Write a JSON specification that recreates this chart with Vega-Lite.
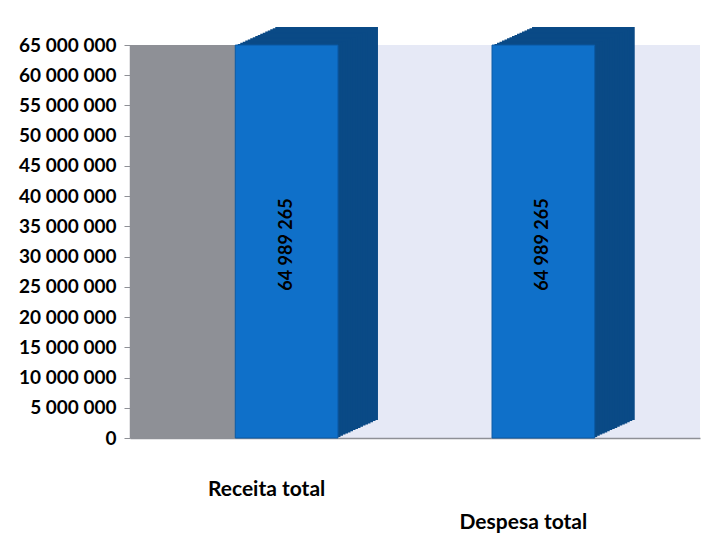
{
  "$schema": "https://vega.github.io/schema/vega-lite/v6.json",
  "width": 570,
  "height": 393,
  "autosize": {"type": "none"},
  "padding": {"left": 130, "top": 45, "right": 24, "bottom": 103},
  "background": "white",
  "config": {
    "locale": {"number": {"decimal": ",", "thousands": " ", "grouping": [3], "currency": ["", ""]}},
    "view": {
      "fill": {
        "gradient": "linear", "x1": 0, "y1": 0, "x2": 1, "y2": 0,
        "stops": [
          {"offset": 0, "color": "#8E9096"},
          {"offset": 0.2, "color": "#8E9096"},
          {"offset": 0.201, "color": "#E6E9F6"},
          {"offset": 1, "color": "#E6E9F6"}
        ]
      },
      "stroke": null
    },
    "font": "Lato"
  },
  "data": {
    "values": [
      {"categoria": "Receita total", "valor": 64989265},
      {"categoria": "Despesa total", "valor": 64989265}
    ]
  },
  "encoding": {
    "x": {
      "field": "categoria",
      "type": "nominal",
      "sort": null,
      "scale": {"paddingInner": 0.6, "paddingOuter": 0.41},
      "axis": {
        "title": null,
        "labelAngle": 0,
        "labelFontSize": 21,
        "labelFontWeight": "bold",
        "labelColor": "#000000",
        "labelPadding": 40,
        "labelOffset": -20,
        "labelLineHeight": 33,
        "labelExpr": "datum.value == 'Despesa total' ? ['', datum.value] : datum.value",
        "ticks": false,
        "domainColor": "#8E9096",
        "domainWidth": 1.5
      }
    },
    "y": {
      "field": "valor",
      "type": "quantitative",
      "scale": {"domain": [0, 65000000]},
      "axis": {
        "title": null,
        "values": [0, 5000000, 10000000, 15000000, 20000000, 25000000, 30000000, 35000000, 40000000, 45000000, 50000000, 55000000, 60000000, 65000000],
        "format": ",d",
        "grid": false,
        "labelFontSize": 19,
        "labelFontWeight": "bold",
        "labelColor": "#000000",
        "labelPadding": 8,
        "tickColor": "#8E9096",
        "tickSize": 6,
        "domainColor": "#8E9096",
        "domainWidth": 1.5
      }
    }
  },
  "layer": [
    {"mark": {"type": "bar", "color": "#0A4A86", "xOffset": 40, "yOffset": -18}},
    {"mark": {"type": "bar", "color": "#0A4A86", "xOffset": 37.5, "yOffset": -16.9}},
    {"mark": {"type": "bar", "color": "#0A4A86", "xOffset": 35, "yOffset": -15.75}},
    {"mark": {"type": "bar", "color": "#0A4A86", "xOffset": 32.5, "yOffset": -14.6}},
    {"mark": {"type": "bar", "color": "#0A4A86", "xOffset": 30, "yOffset": -13.5}},
    {"mark": {"type": "bar", "color": "#0A4A86", "xOffset": 27.5, "yOffset": -12.4}},
    {"mark": {"type": "bar", "color": "#0A4A86", "xOffset": 25, "yOffset": -11.25}},
    {"mark": {"type": "bar", "color": "#0A4A86", "xOffset": 22.5, "yOffset": -10.1}},
    {"mark": {"type": "bar", "color": "#0A4A86", "xOffset": 20, "yOffset": -9}},
    {"mark": {"type": "bar", "color": "#0A4A86", "xOffset": 17.5, "yOffset": -7.9}},
    {"mark": {"type": "bar", "color": "#0A4A86", "xOffset": 15, "yOffset": -6.75}},
    {"mark": {"type": "bar", "color": "#0A4A86", "xOffset": 12.5, "yOffset": -5.6}},
    {"mark": {"type": "bar", "color": "#0A4A86", "xOffset": 10, "yOffset": -4.5}},
    {"mark": {"type": "bar", "color": "#0A4A86", "xOffset": 7.5, "yOffset": -3.4}},
    {"mark": {"type": "bar", "color": "#0A4A86", "xOffset": 5, "yOffset": -2.25}},
    {"mark": {"type": "bar", "color": "#0A4A86", "xOffset": 2.5, "yOffset": -1.1}},
    {"mark": {"type": "bar", "color": "#0F70C9", "stroke": "#0B5AA6", "strokeWidth": 1}},
    {
      "mark": {"type": "text", "angle": 270, "fontSize": 18, "fontWeight": "bold", "color": "#000000", "align": "center", "baseline": "middle"},
      "encoding": {
        "y": {"datum": 32000000, "type": "quantitative"},
        "text": {"field": "valor", "type": "quantitative", "format": ",d"}
      }
    }
  ]
}
